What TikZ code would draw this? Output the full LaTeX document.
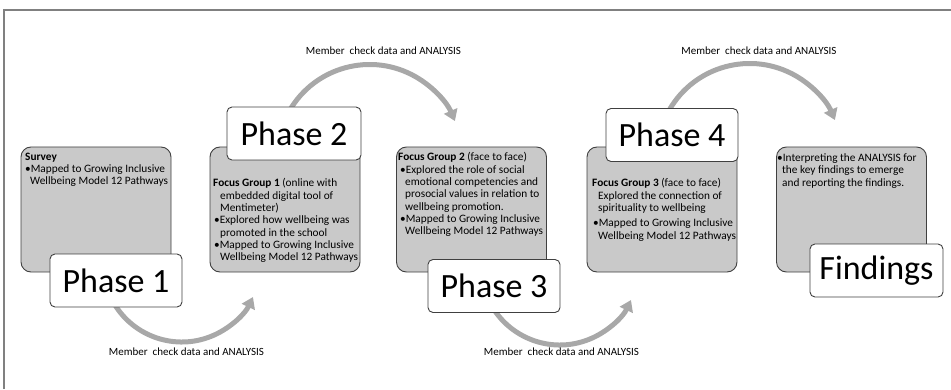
\documentclass[tikz,border=0pt]{standalone}
\usepackage{fontspec}
\setmainfont{Carlito}
\usetikzlibrary{arrows.meta}
\definecolor{boxfill}{gray}{0.79}
\definecolor{boxline}{gray}{0.25}
\definecolor{arcgray}{gray}{0.66}
\definecolor{framegray}{gray}{0.5}
\tikzset{
  stagebox/.style={draw=boxline, fill=boxfill, line width=0.9pt, rounded corners=10pt,
    minimum width=150pt, minimum height=125pt, inner sep=0pt},
  phaselabel/.style={draw=boxline, fill=white, line width=0.9pt, rounded corners=5pt,
    minimum width=132pt, minimum height=53pt, inner sep=0pt, font=\fontsize{34}{36}\selectfont},
  boxtext/.style={anchor=north west, align=left, inner sep=0pt, font=\fontsize{11.3}{12.3}\selectfont},
  looparrow/.style={draw=arcgray, line width=5pt, -{Triangle[length=11pt,width=14pt]}},
  looplabel/.style={anchor=base, inner sep=0pt, font=\fontsize{11}{13}\selectfont},
  framestyle/.style={draw=framegray, line width=1.5pt},
}
\begin{document}
\begin{tikzpicture}[x=1pt,y=1pt]
\useasboundingbox (0,0) rectangle (951,389);
% frame
\coordinate (ftl) at (4,379);
\coordinate (ftr) at (951,379);
\coordinate (fbl) at (4,0);
\draw[framestyle] (fbl) -- (ftl) -- (ftr);

% arc start points (inside the phase labels)
\coordinate (a1s) at ({181.8+78.8*cos(205)},{125.8+78.8*sin(205)});
\coordinate (a2s) at ({369.6+92.6*cos(150)},{231.9+92.6*sin(150)});
\coordinate (a3s) at ({559.8+78.8*cos(205)},{122.8+78.8*sin(205)});
\coordinate (a4s) at ({749.6+92.6*cos(150)},{232.9+92.6*sin(150)});

\draw[looparrow] (a1s) arc[start angle=205, end angle=334.6, radius=78.8];
\draw[looparrow] (a2s) arc[start angle=150, end angle=22.9, radius=92.6];
\draw[looparrow] (a3s) arc[start angle=205, end angle=334.6, radius=78.8];
\draw[looparrow] (a4s) arc[start angle=150, end angle=22.9, radius=92.6];

% loop labels
\node[looplabel] (l1) at (186.5,34) {Member\ \ check data and ANALYSIS};
\node[looplabel] (l2) at (383.5,334.5) {Member\ \ check data and ANALYSIS};
\node[looplabel] (l3) at (561.5,34) {Member\ \ check data and ANALYSIS};
\node[looplabel] (l4) at (759,334.5) {Member\ \ check data and ANALYSIS};

% stage boxes
\node[stagebox] (b1) at (96,179.5) {};
\node[stagebox] (b2) at (285,179.5) {};
\node[stagebox] (b3) at (471.5,179.5) {};
\node[stagebox] (b4) at (662,179.5) {};
\node[stagebox] (b5) at (851.5,179.5) {};

% box texts
\node[boxtext] (t1) at (25,236.5) {\textbf{Survey}\\
  •Mapped to Growing Inclusive\\
  \hspace*{5pt}Wellbeing Model 12 Pathways};
\node[boxtext] (t2) at (213,210.5) {\textbf{Focus Group 1} (online with\\
  \hspace*{7pt}embedded digital tool of\\
  \hspace*{7pt}Mentimeter)\\
  \hspace*{1pt}•Explored how wellbeing was\\
  \hspace*{7pt}promoted in the school\\
  \hspace*{1pt}•Mapped to Growing Inclusive\\
  \hspace*{7pt}Wellbeing Model 12 Pathways};
\node[boxtext] (t3) at (398,236.5) {\textbf{Focus Group 2} (face to face)\\
  \hspace*{2pt}•Explored the role of social\\
  \hspace*{7pt}emotional competencies and\\
  \hspace*{7pt}prosocial values in relation to\\
  \hspace*{7pt}wellbeing promotion.\\
  \hspace*{2pt}•Mapped to Growing Inclusive\\
  \hspace*{7pt}Wellbeing Model 12 Pathways};
\node[boxtext] (t4) at (592,210.5) {\textbf{Focus Group 3} (face to face)\\
  \hspace*{6pt}Explored the connection of\\
  \hspace*{6pt}spirituality to wellbeing\\[3pt]
  \hspace*{1pt}•Mapped to Growing Inclusive\\
  \hspace*{6pt}Wellbeing Model 12 Pathways};
\node[boxtext] (t5) at (777,235.5) {•Interpreting the ANALYSIS for\\
  \hspace*{5pt}the key findings to emerge\\
  \hspace*{5pt}and reporting the findings.};

% phase labels
\node[phaselabel] (p1) at (116,108.5) {Phase 1};
\node[phaselabel, minimum width=134pt] (p2) at (294,255.5) {Phase 2};
\node[phaselabel] (p3) at (494,103) {Phase 3};
\node[phaselabel] (p4) at (672,254) {Phase 4};
\node[phaselabel, minimum width=133pt] (pf) at (876.5,118.5) {Findings};
\end{tikzpicture}
\end{document}
